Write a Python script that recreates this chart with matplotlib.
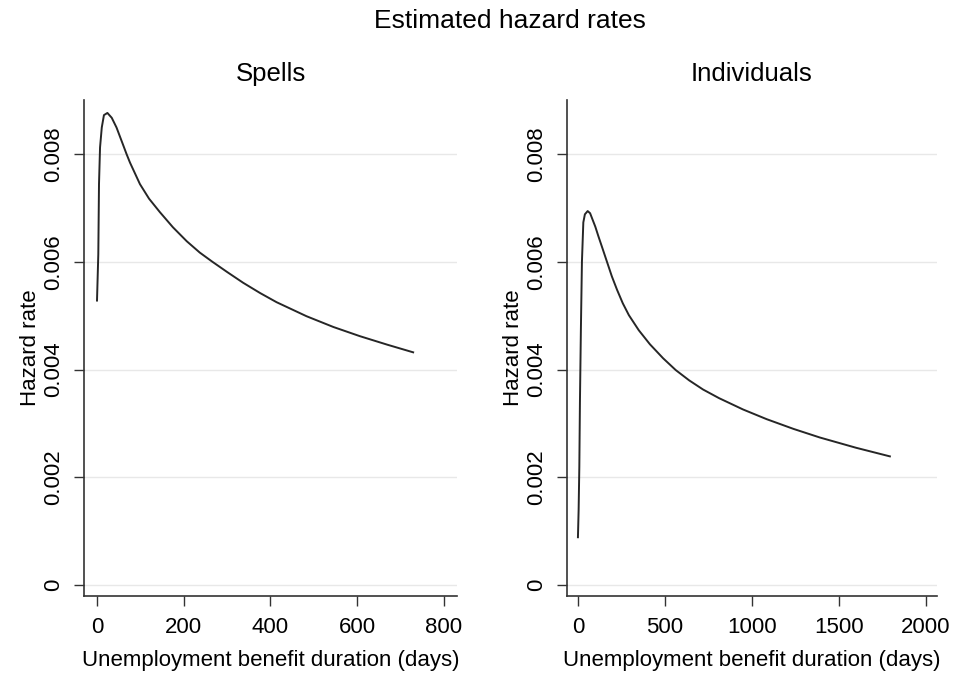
import matplotlib
matplotlib.use("Agg")
import matplotlib.pyplot as plt

plt.rcParams['font.family'] = ['Liberation Sans', 'DejaVu Sans']

# Spells: estimated hazard rate by benefit duration (days)
spells_days = [0, 3, 4.6, 7, 11, 16, 24, 34, 45, 61, 68, 76, 99, 120, 145, 175,
               207, 237, 266, 300, 337, 376, 414, 483, 545, 606, 670, 729]
spells_hazard = [0.00528, 0.00614, 0.00744, 0.00812, 0.00849, 0.00872, 0.00876,
                 0.00867, 0.00849, 0.00815, 0.00800, 0.00784, 0.00744, 0.00717,
                 0.00692, 0.00664, 0.00638, 0.00617, 0.00600, 0.00581, 0.00561,
                 0.00542, 0.00525, 0.00499, 0.00479, 0.00462, 0.00446, 0.00432]

# Individuals: estimated hazard rate by benefit duration (days)
indiv_days = [0, 4, 8, 11.5, 17, 23, 31, 40, 56, 70, 82, 100, 118, 140, 167, 195,
              225, 258, 293, 350, 414, 490, 563, 640, 720, 812, 950, 1086, 1240,
              1392, 1600, 1795]
indiv_hazard = [0.00089, 0.0014, 0.0022, 0.0034, 0.00475, 0.00600, 0.00673, 0.00688,
                0.00694, 0.00690, 0.00680, 0.00665, 0.00647, 0.00626, 0.00600,
                0.00573, 0.00548, 0.00523, 0.00501, 0.00473, 0.00447, 0.00421,
                0.00399, 0.00380, 0.00363, 0.00347, 0.00326, 0.00308, 0.00290,
                0.00274, 0.00255, 0.00239]

y_ticks = [0, 0.002, 0.004, 0.006, 0.008]
y_tick_labels = ["0", "0.002", "0.004", "0.006", "0.008"]

PANELS = [
    ("Spells", spells_days, spells_hazard, [0, 200, 400, 600, 800], (-30, 830)),
    ("Individuals", indiv_days, indiv_hazard, [0, 500, 1000, 1500, 2000], (-63, 2066)),
]

fig = plt.figure(figsize=(9.61, 6.73), dpi=100)
fig.text(0.531, 0.969, "Estimated hazard rates", ha="center", va="center", fontsize=19)

AXES_POS = [[0.0874, 0.1144, 0.3881, 0.737], [0.590, 0.1144, 0.385, 0.737]]

for pos, (title, days, hazard, x_ticks, x_lim) in zip(AXES_POS, PANELS):
    ax = fig.add_axes(pos)
    ax.plot(days, hazard, color="#262626", linewidth=1.4, solid_joinstyle="round")
    ax.set_title(title, fontsize=18.5, pad=14)

    ax.set_xlim(*x_lim)
    ax.set_ylim(-0.0002, 0.009)
    ax.set_xticks(x_ticks)
    ax.set_yticks(y_ticks)
    ax.set_yticklabels(y_tick_labels, rotation=90, va="center")
    ax.tick_params(axis="both", labelsize=16, length=7, width=1, color="#333333")
    ax.tick_params(axis="x", pad=8)
    ax.tick_params(axis="y", pad=7)
    ax.grid(axis="y", color="#e8e8e8", linewidth=1)
    ax.set_axisbelow(True)

    for side in ["top", "right"]:
        ax.spines[side].set_visible(False)
    for side in ["left", "bottom"]:
        ax.spines[side].set_color("#333333")
        ax.spines[side].set_linewidth(1.2)

    ax.set_xlabel("Unemployment benefit duration (days)", fontsize=16, labelpad=9)
    ax.set_ylabel("Hazard rate", fontsize=16, labelpad=2)

fig.savefig("out.png", dpi=100, facecolor="white")
